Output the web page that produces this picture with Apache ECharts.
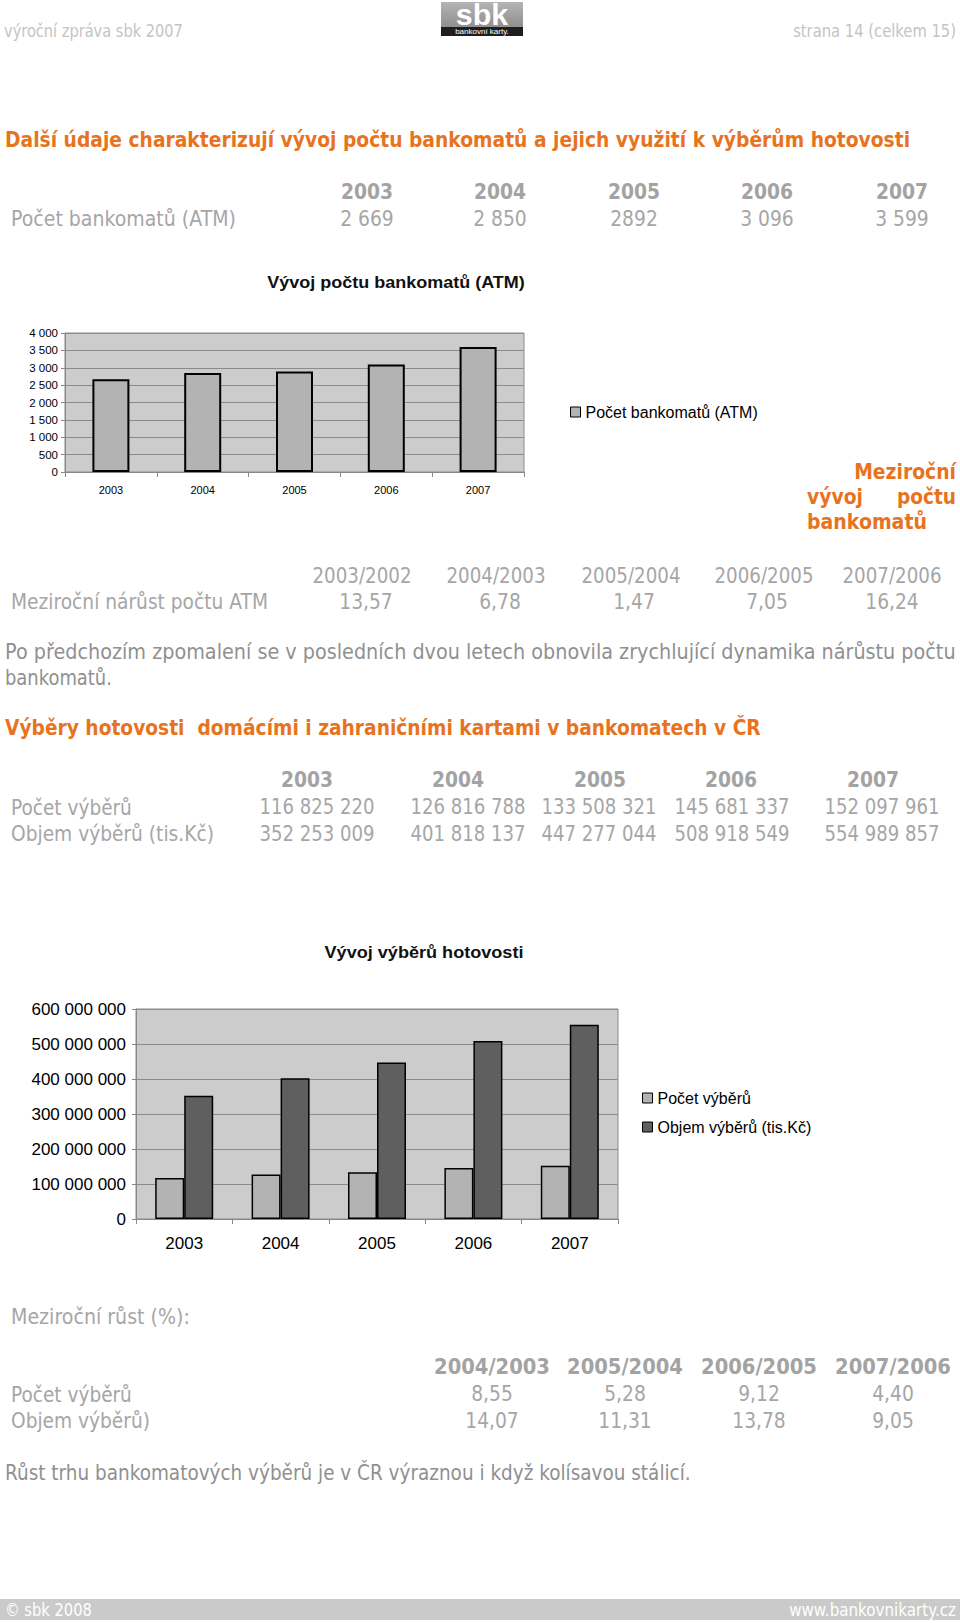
<!DOCTYPE html>
<html>
<head>
<meta charset="utf-8">
<title>výroční zpráva sbk 2007 - strana 14</title>
<script src="https://cdn.jsdelivr.net/npm/echarts@6/dist/echarts.min.js"></script>
<style>
html, body { margin: 0; padding: 0; background: #fff; }
#page { width: 960px; height: 1623px; }
</style>
</head>
<body>
<div id="page"></div>
<script>
// data
var years = ['2003', '2004', '2005', '2006', '2007'];
var atmCounts = [2669, 2850, 2892, 3096, 3599];
var atmCountLabels = ['2 669', '2 850', '2892', '3 096', '3 599'];
var atmGrowthPeriods = ['2003/2002', '2004/2003', '2005/2004', '2006/2005', '2007/2006'];
var atmGrowth = ['13,57', '6,78', '1,47', '7,05', '16,24'];
var withdrawalCount = [116825220, 126816788, 133508321, 145681337, 152097961];
var withdrawalVolume = [352253009, 401818137, 447277044, 508918549, 554989857];
var growthPeriods = ['2004/2003', '2005/2004', '2006/2005', '2007/2006'];
var countGrowth = ['8,55', '5,28', '9,12', '4,40'];
var volumeGrowth = ['14,07', '11,31', '13,78', '9,05'];

var ORANGE = '#e8731e';
var GRAY = '#a6a6a6';
var BODY = '"DejaVu Sans"';
var CHARTFONT = '"Liberation Sans", Arial, sans-serif';

var ctx = document.createElement('canvas').getContext('2d');
function measure(str, font) {
    ctx.font = font;
    return ctx.measureText(str).width;
}
function spaced(n) {
    return String(n).replace(/\B(?=(\d{3})+(?!\d))/g, ' ');
}

// text squeezed horizontally to the width it has on the page
function txt(str, x, y, o) {
    var font = (o.bold ? 'bold ' : '') + o.size + 'px ' + (o.family || BODY);
    var sx = o.width ? o.width / measure(str, font) : (o.sx || 0.87);
    var align = o.align || 'left';
    return {
        type: 'text', x: x, y: y, scaleX: sx, silent: true,
        style: {
            text: str, x: 0, y: 0, font: font, fill: o.color || GRAY,
            align: align, verticalAlign: 'middle',
            textAlign: align, textVerticalAlign: 'middle'
        }
    };
}

var colA = [367, 500, 634, 767, 902];
var colB = [366, 500, 634, 767, 892];
var colHeadB = [362, 496, 631, 764, 892];
var colC = [307, 458, 600, 731, 873];
var colCv = [317, 468, 599, 732, 882];
var colD = [492, 625, 759, 893];

var els = [];
// header
els.push(txt('výroční zpráva sbk 2007', 4, 31, { size: 17, width: 179, color: '#c4c4c4' }));
els.push(txt('strana 14 (celkem 15)', 956, 31, { size: 17, width: 163, color: '#c4c4c4', align: 'right' }));
els.push({ type: 'rect', shape: { x: 441, y: 2, width: 82, height: 26 }, silent: true,
    style: { fill: new echarts.graphic.LinearGradient(0, 0, 0, 1, [{ offset: 0, color: '#b4b4b4' }, { offset: 1, color: '#8e8e8e' }]) } });
els.push({ type: 'rect', shape: { x: 441, y: 27, width: 82, height: 9 }, silent: true, style: { fill: '#1e1e1e' } });
els.push(txt('sbk', 482, 15, { size: 29, bold: true, family: CHARTFONT, color: '#fff', align: 'center', sx: 1.05 }));
els.push(txt('bankovní karty.', 482, 31.5, { size: 8, family: CHARTFONT, color: '#fff', align: 'center', sx: 1 }));

// heading 1 + table 1
els.push(txt('Další údaje charakterizují vývoj počtu bankomatů a jejich využití k výběrům hotovosti', 5, 140,
    { size: 21, bold: true, width: 906, color: ORANGE }));
years.forEach(function (y, i) {
    els.push(txt(y, colA[i], 192, { size: 21, bold: true, width: 52, align: 'center', color: '#a3a3a3' }));
    els.push(txt(atmCountLabels[i], colA[i], 219, { size: 21.5, align: 'center' }));
});
els.push(txt('Počet bankomatů (ATM)', 11, 219, { size: 21.5, width: 225 }));

// chart titles / side heading
els.push(txt('Vývoj počtu bankomatů (ATM)', 396, 283, { size: 16, bold: true, family: CHARTFONT, width: 258, color: '#111', align: 'center' }));
els.push(txt('Meziroční', 956, 472, { size: 21, bold: true, width: 102, color: ORANGE, align: 'right' }));
els.push(txt('vývoj', 807, 497, { size: 21, bold: true, width: 56, color: ORANGE }));
els.push(txt('počtu', 956, 497, { size: 21, bold: true, width: 59, color: ORANGE, align: 'right' }));
els.push(txt('bankomatů', 807, 522, { size: 21, bold: true, width: 120, color: ORANGE }));

// table 2
atmGrowthPeriods.forEach(function (p, i) {
    els.push(txt(p, colHeadB[i], 575, { size: 21.5, width: 99, align: 'center' }));
    els.push(txt(atmGrowth[i], colB[i], 602, { size: 21.5, align: 'center' }));
});
els.push(txt('Meziroční nárůst počtu ATM', 11, 602, { size: 21.5, width: 257 }));

els.push(txt('Po předchozím zpomalení se v posledních dvou letech obnovila zrychlující dynamika nárůstu počtu', 5, 652,
    { size: 21.5, width: 951, color: '#909090' }));
els.push(txt('bankomatů.', 5, 678, { size: 21.5, width: 107, color: '#909090' }));

// heading 2 + table 3
els.push(txt('Výběry hotovosti  domácími i zahraničními kartami v bankomatech v ČR', 5, 728,
    { size: 21, bold: true, width: 756, color: ORANGE }));
years.forEach(function (y, i) {
    els.push(txt(y, colC[i], 780, { size: 21, bold: true, width: 52, align: 'center', color: '#a3a3a3' }));
    els.push(txt(spaced(withdrawalCount[i]), colCv[i], 807, { size: 21.5, width: 115, align: 'center' }));
    els.push(txt(spaced(withdrawalVolume[i]), colCv[i], 834, { size: 21.5, width: 115, align: 'center' }));
});
els.push(txt('Počet výběrů', 11, 807, { size: 21.5, width: 121 }));
els.push(txt('Objem výběrů (tis.Kč)', 11, 834, { size: 21.5, width: 203 }));

els.push(txt('Vývoj výběrů hotovosti', 424, 952, { size: 17, bold: true, family: CHARTFONT, width: 199, color: '#111', align: 'center' }));

// table 4
els.push(txt('Meziroční růst (%):', 11, 1317, { size: 21.5, width: 179 }));
growthPeriods.forEach(function (p, i) {
    els.push(txt(p, colD[i], 1367, { size: 20.5, bold: true, width: 116, align: 'center', color: '#a3a3a3' }));
    els.push(txt(countGrowth[i], colD[i], 1394, { size: 21.5, align: 'center' }));
    els.push(txt(volumeGrowth[i], colD[i], 1421, { size: 21.5, align: 'center' }));
});
els.push(txt('Počet výběrů', 11, 1394, { size: 21.5, width: 121 }));
els.push(txt('Objem výběrů)', 11, 1421, { size: 21.5, width: 139 }));
els.push(txt('Růst trhu bankomatových výběrů je v ČR výraznou i když kolísavou stálicí.', 5, 1472,
    { size: 21.5, width: 686, color: '#909090' }));

// footer
els.push({ type: 'rect', shape: { x: 0, y: 1599, width: 960, height: 21 }, silent: true, style: { fill: '#cacaca' } });
els.push(txt('© sbk 2008', 5, 1610, { size: 17, width: 87, color: '#fff' }));
els.push(txt('www.bankovnikarty.cz', 956, 1610, { size: 17, width: 167, color: '#fff', align: 'right' }));

function valueAxis(gridIndex, max, interval, fontSize) {
    return {
        type: 'value', gridIndex: gridIndex, min: 0, max: max, interval: interval,
        axisLine: { show: true, lineStyle: { color: '#888' } },
        axisTick: { show: true, length: 4, lineStyle: { color: '#888' } },
        splitLine: { lineStyle: { color: '#8c8c8c' } },
        axisLabel: { color: '#000', fontFamily: CHARTFONT, fontSize: fontSize, margin: fontSize > 12 ? 10 : 7, formatter: spaced }
    };
}
function catAxis(gridIndex, fontSize, margin) {
    return {
        type: 'category', gridIndex: gridIndex, data: years,
        axisLine: { lineStyle: { color: '#888' } },
        axisTick: { show: true, length: 5, lineStyle: { color: '#888' } },
        axisLabel: { color: '#000', fontFamily: CHARTFONT, fontSize: fontSize, margin: margin }
    };
}

var chart = echarts.init(document.getElementById('page'), null, { renderer: 'svg' });
chart.setOption({
    animation: false,
    backgroundColor: '#fff',
    grid: [
        { left: 65, top: 333, width: 459, height: 139, show: true, backgroundColor: '#cccccc', borderColor: '#8c8c8c', borderWidth: 1 },
        { left: 136, top: 1009, width: 482, height: 210, show: true, backgroundColor: '#cccccc', borderColor: '#8c8c8c', borderWidth: 1 }
    ],
    xAxis: [catAxis(0, 11, 12), catAxis(1, 17, 16)],
    yAxis: [valueAxis(0, 4000, 500, 11.5), valueAxis(1, 600000000, 100000000, 17)],
    legend: [
        {
            data: ['Počet bankomatů (ATM)'], left: 565, top: 399, itemWidth: 10, itemHeight: 10,
            icon: 'rect', itemStyle: { borderWidth: 1 },
            textStyle: { fontFamily: CHARTFONT, fontSize: 16, color: '#000' }
        },
        {
            data: ['Počet výběrů', 'Objem výběrů (tis.Kč)'], orient: 'vertical', left: 637, top: 1085,
            itemWidth: 10, itemHeight: 10, itemGap: 13, icon: 'rect', itemStyle: { borderWidth: 1 },
            textStyle: { fontFamily: CHARTFONT, fontSize: 16, color: '#000' }
        }
    ],
    series: [
        {
            name: 'Počet bankomatů (ATM)', type: 'bar', xAxisIndex: 0, yAxisIndex: 0,
            data: atmCounts, barWidth: 37,
            itemStyle: { color: '#b3b3b3', borderColor: '#000', borderWidth: 2 }
        },
        {
            name: 'Počet výběrů', type: 'bar', xAxisIndex: 1, yAxisIndex: 1,
            data: withdrawalCount, barWidth: 29, barGap: '0%',
            itemStyle: { color: '#b3b3b3', borderColor: '#000', borderWidth: 1.5 }
        },
        {
            name: 'Objem výběrů (tis.Kč)', type: 'bar', xAxisIndex: 1, yAxisIndex: 1,
            data: withdrawalVolume, barWidth: 29, barGap: '0%',
            itemStyle: { color: '#5f5f5f', borderColor: '#000', borderWidth: 1.5 }
        }
    ],
    graphic: { elements: els }
});
</script>
</body>
</html>
